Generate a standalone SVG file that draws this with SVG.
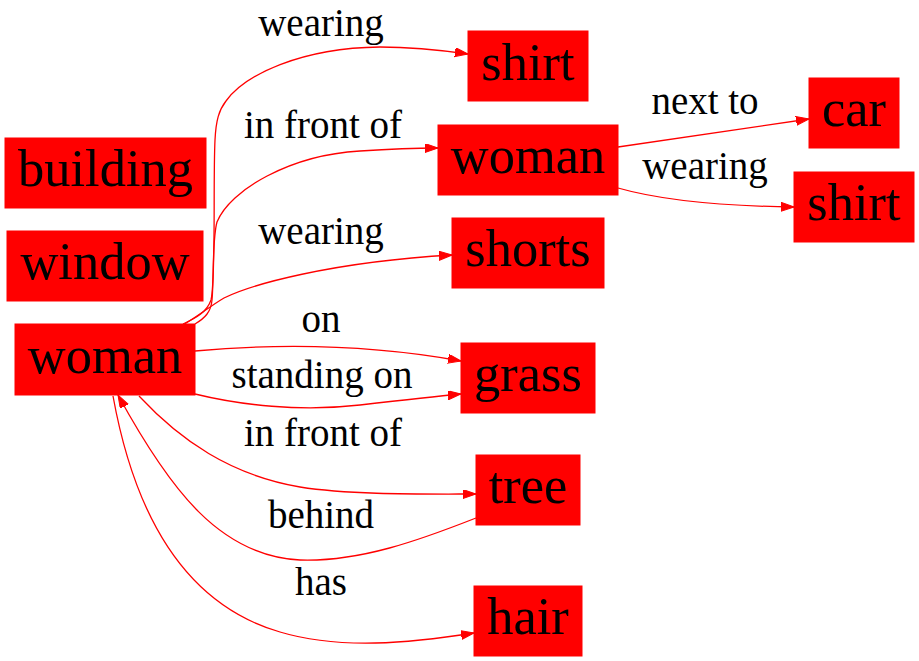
<svg xmlns="http://www.w3.org/2000/svg" width="919" height="661" viewBox="0 0 919 661">
<style>
.node rect{fill:#ff0000;stroke:#ff0000;stroke-width:1}
.node text{font-family:'Liberation Serif',Tinos,'Times New Roman',Times,'DejaVu Serif',serif;font-size:52.5px;fill:#000;text-anchor:middle}
.edge path{fill:none;stroke:#ff0000;stroke-width:1.3;marker-end:url(#arr)}
.lbl{font-family:'Liberation Serif',Tinos,'Times New Roman',Times,'DejaVu Serif',serif;font-size:39px;fill:#000;text-anchor:middle}
</style>
<defs>
<marker id="arr" markerUnits="userSpaceOnUse" markerWidth="14" markerHeight="10" refX="13" refY="4.5" orient="auto" viewBox="0 0 14 10">
<path d="M0,0 L13,4.5 L0,9 z" fill="#ff0000" stroke="#ff0000" stroke-width="1"/>
</marker>
</defs>
<rect width="919" height="661" fill="#fff"/>
<g id="edges" class="edge">
<path d="M183,324 C196,318 207,312 211,300 C216,280 213,180 215,140 C216,120 219,110 226,101 C245,75 300,48 380,47 C415,47 440,50 468,54"/>
<path d="M195,324 C205,318 211,312 212,300 C214,280 212,240 217,222 C230,190 290,155 360,151 C390,149 415,148 438,148"/>
<path d="M183,325 C195,318 212,305 224,298 C250,285 330,262 452,255"/>
<path d="M195,351 C250,346 350,341 461,361"/>
<path d="M195,394 C240,405 300,412 360,405 C395,401 430,397 461,394"/>
<path d="M139,396 C180,440 230,475 300,487 C350,495 420,494 476,494"/>
<path d="M476,518 C420,540 360,562 300,560 C220,556 170,490 118,395"/>
<path d="M113,396 C130,490 170,600 280,632 C340,650 410,643 474,633"/>
<path d="M618,147 L809,119"/>
<path d="M618,188 C660,200 720,206 794,207"/>
</g>
<g id="edge-labels">
<text class="lbl" x="321" y="36">wearing</text>
<text class="lbl" x="323" y="138">in front of</text>
<text class="lbl" x="321" y="244">wearing</text>
<text class="lbl" x="321" y="332">on</text>
<text class="lbl" x="322" y="388">standing on</text>
<text class="lbl" x="323" y="446">in front of</text>
<text class="lbl" x="321" y="528">behind</text>
<text class="lbl" x="321" y="595">has</text>
<text class="lbl" x="705" y="114">next to</text>
<text class="lbl" x="705" y="179">wearing</text>
</g>
<g id="building" class="node"><rect x="5" y="138" width="201" height="70"/><text x="105.5" y="186">building</text></g>
<g id="window" class="node"><rect x="7" y="231" width="196" height="70"/><text x="105" y="279">window</text></g>
<g id="woman1" class="node"><rect x="15" y="324" width="180" height="71"/><text x="105" y="372.5">woman</text></g>
<g id="shirt1" class="node"><rect x="468" y="31" width="120" height="70"/><text x="528" y="79.5">shirt</text></g>
<g id="woman2" class="node"><rect x="438" y="125" width="180" height="70"/><text x="528" y="172.5">woman</text></g>
<g id="shorts" class="node"><rect x="452" y="218" width="152" height="70"/><text x="528" y="266">shorts</text></g>
<g id="grass" class="node"><rect x="461" y="343" width="134" height="70"/><text x="528" y="391">grass</text></g>
<g id="tree" class="node"><rect x="476" y="455" width="104" height="70"/><text x="528" y="503">tree</text></g>
<g id="hair" class="node"><rect x="474" y="586" width="108" height="70"/><text x="528" y="634">hair</text></g>
<g id="car" class="node"><rect x="809" y="78" width="90" height="70"/><text x="854" y="126">car</text></g>
<g id="shirt2" class="node"><rect x="794" y="172" width="120" height="70"/><text x="854" y="220">shirt</text></g>
</svg>
